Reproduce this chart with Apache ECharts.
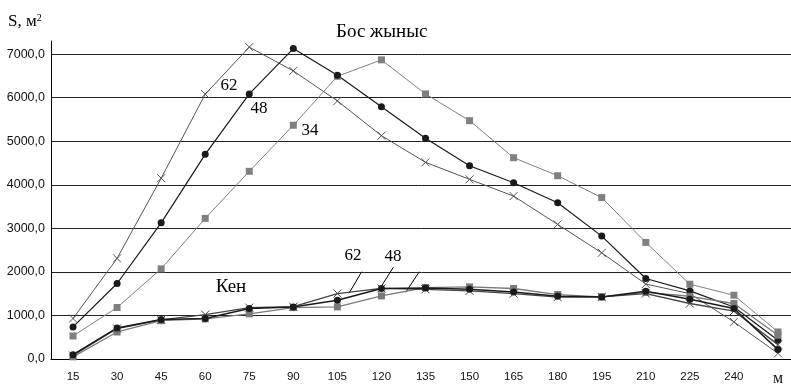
<!DOCTYPE html>
<html>
<head>
<meta charset="utf-8">
<script src="https://cdn.jsdelivr.net/npm/echarts@6/dist/echarts.min.js"></script>
<style>html,body{margin:0;padding:0;background:#fff}#c{width:791px;height:384px}</style>
</head>
<body>
<div id="c"></div>
<script>
var categories = ['15','30','45','60','75','90','105','120','135','150','165','180','195','210','225','240','м'];
var yTicks = [0,1000,2000,3000,4000,5000,6000,7000];
var bos62 = [930, 2310, 4150, 6080, 7160, 6614, 5924, 5127, 4515, 4124, 3740, 3090, 2437, 1720, 1500, 851, 130];
var bos48 = [736, 1733, 3126, 4699, 6085, 7126, 6515, 5793, 5067, 4437, 4046, 3586, 2821, 1848, 1563, 1195, 430];
var bos34 = [529, 1182, 2069, 3228, 4308, 5366, 6490, 6867, 6085, 5471, 4621, 4207, 3705, 2676, 1717, 1464, 621];
var ken62 = [80, 700, 900, 1020, 1180, 1200, 1503, 1620, 1600, 1563, 1500, 1420, 1425, 1503, 1274, 1100, 330];
var ken48 = [100, 713, 906, 929, 1159, 1195, 1349, 1618, 1632, 1602, 1540, 1441, 1425, 1556, 1372, 1158, 216];
var ken34 = [50, 620, 880, 920, 1036, 1180, 1195, 1448, 1640, 1655, 1618, 1480, 1425, 1530, 1440, 1274, 545];

var chart = echarts.init(document.getElementById('c'), null, {renderer: 'canvas'});
var serif = '"Liberation Serif", "DejaVu Serif", serif';
var sans = '"Liberation Sans", Arial, sans-serif';
var X_SYMBOL = 'path://M0,0L10,10M10,0L0,10';

function mk(name, data, kind, color, width) {
  var s = {
    name: name, type: 'line', data: data, xAxisIndex: 0,
    lineStyle: {color: color, width: width},
    animation: false, silent: true
  };
  if (kind === 'x') {
    s.symbol = X_SYMBOL; s.symbolSize = 8;
    s.itemStyle = {color: 'none', borderColor: color, borderWidth: 1};
  } else if (kind === 'dot') {
    s.symbol = 'circle'; s.symbolSize = 7;
    s.itemStyle = {color: color, borderWidth: 0};
  } else {
    s.symbol = 'rect'; s.symbolSize = 7;
    s.itemStyle = {color: color, borderWidth: 0};
  }
  return s;
}

var option = {
  backgroundColor: '#fff',
  animation: false,
  grid: {left: 51, right: -9, top: 41, bottom: 25, containLabel: false, outerBoundsMode: 'none'},
  xAxis: [{
    type: 'category', data: categories, boundaryGap: true,
    axisLine: {lineStyle: {color: '#000', width: 1}},
    axisTick: {alignWithLabel: true, length: 5, lineStyle: {color: '#000'}},
    axisLabel: {
      margin: 12, color: '#111', fontFamily: sans, fontSize: 11.5,
      formatter: function (v) { return v === 'м' ? '{m|м}' : v; },
      rich: {m: {fontFamily: serif, fontSize: 16, color: '#111'}}
    },
    splitLine: {show: false}
  }, {
    type: 'category', data: categories, boundaryGap: true, position: 'bottom',
    axisLine: {show: false},
    axisTick: {length: 5, lineStyle: {color: '#000'}},
    axisLabel: {show: false}, splitLine: {show: false}
  }],
  yAxis: {
    type: 'value', min: 0, max: 7300, interval: 1000,
    axisLine: {show: true, lineStyle: {color: '#000'}},
    axisTick: {show: false},
    axisLabel: {
      margin: 6, color: '#111', fontFamily: sans, fontSize: 12.5, showMaxLabel: false,
      formatter: function (v) { return yTicks.indexOf(v) >= 0 ? v.toFixed(1).replace('.', ',') : ''; }
    },
    splitLine: {show: true, showMaxLine: false, lineStyle: {color: '#222', width: 1}}
  },
  series: [
    mk('Бос 34', bos34, 'sq', '#808080', 1),
    mk('Бос 62', bos62, 'x', '#555', 1),
    mk('Бос 48', bos48, 'dot', '#1a1a1a', 1.2),
    mk('Кен 34', ken34, 'sq', '#7a7a7a', 1.3),
    mk('Кен 62', ken62, 'x', '#444', 1.3),
    mk('Кен 48', ken48, 'dot', '#1a1a1a', 1.5)
  ],
  graphic: [
    {type: 'text', left: 8, top: 13, style: {text: '{a|S, м}{b|2}', rich: {a: {fontFamily: serif, fontSize: 17, fill: '#000'}, b: {fontFamily: serif, fontSize: 10, fill: '#000', verticalAlign: 'top', padding: [0,0,8,0]}}}},
    {type: 'text', x: 336, y: 32, style: {text: 'Бос жыныс', font: '19px ' + serif, fill: '#000', verticalAlign: 'middle', align: 'left'}},
    {type: 'text', x: 229, y: 86, style: {text: '62', font: '17px ' + serif, fill: '#000', verticalAlign: 'middle', align: 'center'}},
    {type: 'text', x: 259, y: 109, style: {text: '48', font: '17px ' + serif, fill: '#000', verticalAlign: 'middle', align: 'center'}},
    {type: 'text', x: 310, y: 131, style: {text: '34', font: '17px ' + serif, fill: '#000', verticalAlign: 'middle', align: 'center'}},
    {type: 'text', x: 231, y: 287, style: {text: 'Кен', font: '19px ' + serif, fill: '#000', verticalAlign: 'middle', align: 'center'}},
    {type: 'text', x: 353, y: 256, style: {text: '62', font: '17px ' + serif, fill: '#000', verticalAlign: 'middle', align: 'center'}},
    {type: 'text', x: 393, y: 257, style: {text: '48', font: '17px ' + serif, fill: '#000', verticalAlign: 'middle', align: 'center'}},
    {type: 'line', shape: {x1: 361.7, y1: 271.7, x2: 349, y2: 293.3}, style: {stroke: '#000', lineWidth: 1}},
    {type: 'line', shape: {x1: 393.3, y1: 267.3, x2: 379, y2: 290}, style: {stroke: '#000', lineWidth: 1}},
    {type: 'line', shape: {x1: 419.3, y1: 271.7, x2: 405.7, y2: 292.3}, style: {stroke: '#000', lineWidth: 1}}
  ]
};
chart.setOption(option);
</script>
</body>
</html>
